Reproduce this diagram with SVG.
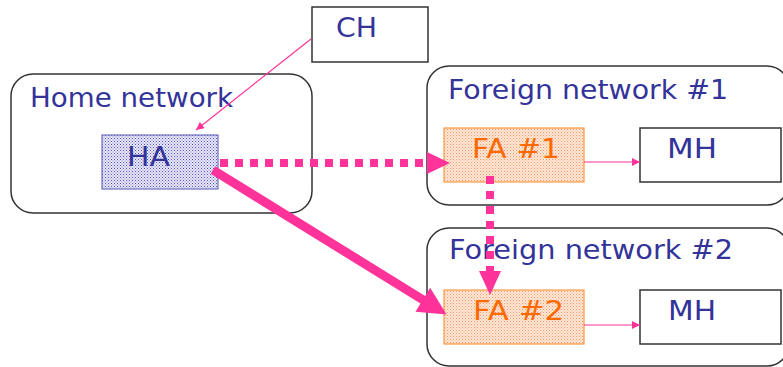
<svg xmlns="http://www.w3.org/2000/svg" width="783" height="367" viewBox="0 0 783 367">
  <defs>
    <pattern id="dotsBlue" width="3" height="3" patternUnits="userSpaceOnUse">
      <rect width="3" height="3" fill="#e4e4f6"/>
      <rect width="1" height="1" fill="#5a5abf"/>
      <rect x="1.5" y="1.5" width="1" height="1" fill="#8a8ad6"/>
    </pattern>
    <pattern id="dotsOrange" width="3" height="3" patternUnits="userSpaceOnUse">
      <rect width="3" height="3" fill="#fde6d6"/>
      <rect width="1" height="1" fill="#f59a66"/>
      <rect x="1.5" y="1.5" width="1" height="1" fill="#f8b58a"/>
    </pattern>
    <marker id="thinHead" viewBox="0 0 10 10" refX="10" refY="5" markerWidth="9" markerHeight="8" markerUnits="userSpaceOnUse" orient="auto">
      <path d="M0,0 L10,5 L0,10 z" fill="#ff3399"/>
    </marker>
    <!-- base of the head sits on the line end so the thick stroke never pokes past the tip -->
    <marker id="hugeHead" viewBox="0 0 10 10" refX="0.5" refY="5" markerWidth="30" markerHeight="28" markerUnits="userSpaceOnUse" orient="auto">
      <path d="M0,0 L10,5 L0,10 z" fill="#ff3399"/>
    </marker>
  </defs>
  <style>
    .net { fill: #ffffff; stroke: #333333; stroke-width: 1.5; }
    .box { fill: #ffffff; stroke: #333333; stroke-width: 1.5; }
    .ha { fill: url(#dotsBlue); stroke: #7070c0; stroke-width: 1.2; }
    .fa { fill: url(#dotsOrange); stroke: #ff9944; stroke-width: 1.2; }
    text { font-family: "DejaVu Sans", "Liberation Sans", sans-serif; font-size: 27px; }
    .blue { fill: #333399; }
    .orange { fill: #ff6a00; }
    .thin { stroke: #ff3399; stroke-width: 1.2; fill: none; marker-end: url(#thinHead); }
    .dotted { stroke: #ff3399; stroke-width: 8; fill: none; stroke-dasharray: 8 7; }
    .solid { stroke: #ff3399; stroke-width: 9; fill: none; }
  </style>

  <g id="home-network">
    <rect class="net" x="11" y="74" width="301" height="139" rx="22" ry="22"/>
    <text class="blue" x="30" y="107" textLength="203" lengthAdjust="spacingAndGlyphs">Home network</text>
  </g>

  <g id="foreign-network-1">
    <rect class="net" x="427" y="66" width="362" height="139" rx="22" ry="22"/>
    <text class="blue" x="448" y="99" textLength="280" lengthAdjust="spacingAndGlyphs">Foreign network #1</text>
  </g>

  <g id="foreign-network-2">
    <rect class="net" x="427" y="228" width="362" height="138" rx="22" ry="22"/>
    <text class="blue" x="449" y="259" textLength="284" lengthAdjust="spacingAndGlyphs">Foreign network #2</text>
  </g>

  <g id="ch">
    <rect class="box" x="312" y="7" width="116" height="55"/>
    <text class="blue" x="336" y="37" textLength="41" lengthAdjust="spacingAndGlyphs">CH</text>
  </g>

  <g id="ha">
    <rect class="ha" x="102" y="135" width="116" height="54"/>
    <text class="blue" x="127" y="166" textLength="43" lengthAdjust="spacingAndGlyphs">HA</text>
  </g>

  <g id="fa1">
    <rect class="fa" x="444" y="128" width="140" height="54"/>
    <text class="orange" x="472" y="158" textLength="88" lengthAdjust="spacingAndGlyphs">FA #1</text>
  </g>

  <g id="mh1">
    <rect class="box" x="640" y="128" width="141" height="54"/>
    <text class="blue" x="667" y="158" textLength="50" lengthAdjust="spacingAndGlyphs">MH</text>
  </g>

  <g id="fa2">
    <rect class="fa" x="444" y="290" width="140" height="54"/>
    <text class="orange" x="473" y="320" textLength="91" lengthAdjust="spacingAndGlyphs">FA #2</text>
  </g>

  <g id="mh2">
    <rect class="box" x="640" y="290" width="141" height="54"/>
    <text class="blue" x="668" y="320" textLength="48" lengthAdjust="spacingAndGlyphs">MH</text>
  </g>

  <g id="connectors">
    <line class="thin" x1="311" y1="39" x2="196" y2="130"/>
    <line class="thin" x1="584" y1="162" x2="640" y2="162"/>
    <line class="thin" x1="584" y1="325" x2="640" y2="325"/>
    <line class="dotted" x1="220" y1="163" x2="428" y2="163"/>
    <polygon points="427,152 450,163 427,174" fill="#ff3399"/>
    <line class="dotted" x1="490" y1="176" x2="490" y2="272"/>
    <polygon points="479,271 501,271 490,295" fill="#ff3399"/>
    <line class="solid" x1="213" y1="170" x2="424" y2="300.5" marker-end="url(#hugeHead)"/>
  </g>
</svg>
